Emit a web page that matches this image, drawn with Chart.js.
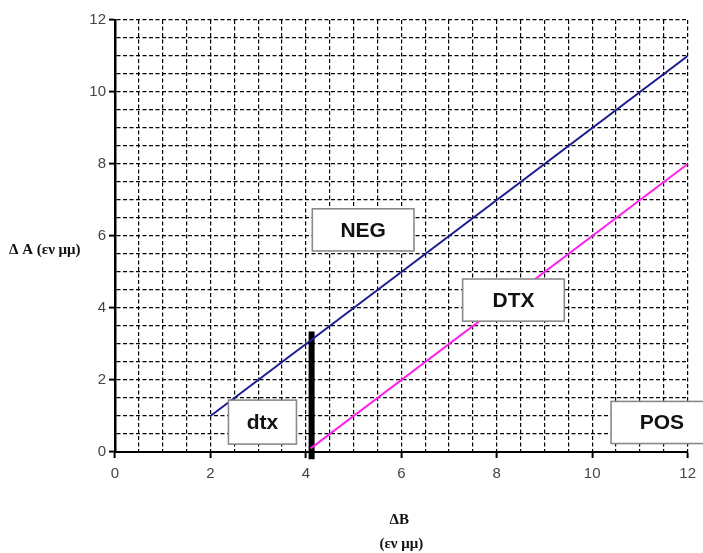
<!DOCTYPE html>
<html>
<head>
<meta charset="utf-8">
<script src="https://cdn.jsdelivr.net/npm/chart.js@4"></script>
<style>
  html, body { margin: 0; padding: 0; background: #fff; }
  #wrap { width: 703px; height: 553px; }
</style>
</head>
<body>
<div id="wrap"><canvas id="c" width="703" height="553"></canvas></div>
<script>
// ---- data ----
const xTickLabels = ['0', '2', '4', '6', '8', '10', '12'];
const yTickLabels = ['0', '2', '4', '6', '8', '10', '12'];
const negLineX = [2, 12];
const negLineY = [1, 11];
const dtxLineX = [4.1, 12];
const dtxLineY = [0.1, 8];
const barX = [4.12, 4.12];
const barY = [-0.2, 3.35];
const boxTexts = ['dtx', 'NEG', 'DTX', 'POS'];
const boxCenterX = [3.09, 5.2, 8.35, 11.46];
const boxCenterY = [0.83, 6.17, 4.22, 0.82];
const yTitle = 'Δ A (εν μμ)';
const xTitle = ['ΔB', '(εν μμ)'];

const toPts = (xs, ys) => xs.map((x, i) => ({ x: x, y: ys[i] }));

const boxPlugin = {
  id: 'boxes',
  afterDatasetsDraw(chart) {
    const ctx = chart.ctx;
    const xs = chart.scales.x, ys = chart.scales.y;
    ctx.save();
    const wU = 2.13, hU = 1.17;
    boxTexts.forEach((t, i) => {
      const cx = xs.getPixelForValue(boxCenterX[i]);
      const cy = ys.getPixelForValue(boxCenterY[i]);
      const w = (t === 'dtx') ? 68 : Math.abs(xs.getPixelForValue(wU) - xs.getPixelForValue(0));
      const h = (t === 'dtx') ? 44 : Math.abs(ys.getPixelForValue(hU) - ys.getPixelForValue(0));
      ctx.fillStyle = '#ffffff';
      ctx.fillRect(cx - w / 2, cy - h / 2, w, h);
      ctx.strokeStyle = '#8a8a8a';
      ctx.lineWidth = 1.6;
      ctx.strokeRect(cx - w / 2, cy - h / 2, w, h);
      ctx.fillStyle = '#111';
      ctx.font = 'bold 21px "Liberation Sans", Arial, sans-serif';
      ctx.textAlign = 'center';
      ctx.textBaseline = 'middle';
      ctx.fillText(t, cx, cy + 1);
    });
    ctx.restore();
  },
  afterDraw(chart) {
    const ctx = chart.ctx;
    const ca = chart.chartArea;
    ctx.save();
    ctx.fillStyle = '#111';
    ctx.font = 'bold 15px "Liberation Serif", "Times New Roman", serif';
    ctx.textBaseline = 'middle';
    ctx.textAlign = 'left';
    ctx.fillText(yTitle, 9, (ca.top + ca.bottom) / 2 + 14);
    ctx.textAlign = 'center';
    const cx = (ca.left + ca.right) / 2;
    ctx.fillText(xTitle[0], cx - 2, ca.bottom + 68);
    ctx.fillText(xTitle[1], cx, ca.bottom + 92);
    ctx.restore();
  }
};

const isMajor = (v) => Math.abs(v % 2) < 1e-9;
const tickFont = { family: '"Liberation Sans", Arial, sans-serif', size: 15 };

new Chart(document.getElementById('c'), {
  type: 'scatter',
  data: {
    datasets: [
      { data: toPts(negLineX, negLineY), showLine: true, borderColor: '#1c1c8e', borderWidth: 2, pointRadius: 0, fill: false },
      { data: toPts(dtxLineX, dtxLineY), showLine: true, borderColor: '#ff22ee', borderWidth: 2, pointRadius: 0, fill: false },
      { data: toPts(barX, barY), showLine: true, borderColor: '#000000', borderWidth: 6, pointRadius: 0, fill: false, clip: false, borderCapStyle: 'butt' }
    ]
  },
  options: {
    responsive: false,
    animation: false,
    devicePixelRatio: 1,
    layout: { padding: { left: 0, right: 12, top: 20, bottom: 0 } },
    plugins: { legend: { display: false }, tooltip: { enabled: false } },
    scales: {
      x: {
        type: 'linear', min: 0, max: 12,
        afterFit: (s) => { s.height = 101; },
        ticks: {
          stepSize: 0.5, autoSkip: false, maxRotation: 0, padding: 7,
          color: '#444', font: tickFont,
          callback: (v) => isMajor(v) ? xTickLabels[Math.round(v / 2)] : ''
        },
        grid: {
          color: '#000', lineWidth: 1.2, drawTicks: true, tickLength: 6,
          tickColor: (c) => (c.tick && isMajor(c.tick.value)) ? '#000' : 'rgba(0,0,0,0)',
          tickWidth: 2
        },
        border: { display: true, color: '#000', width: 2, dash: [4, 2.5] }
      },
      y: {
        type: 'linear', min: 0, max: 12,
        afterFit: (s) => { s.width = 115; },
        ticks: {
          stepSize: 0.5, autoSkip: false, padding: 3,
          color: '#444', font: tickFont,
          callback: (v) => isMajor(v) ? yTickLabels[Math.round(v / 2)] : ''
        },
        grid: {
          color: '#000', lineWidth: 1.2, drawTicks: true, tickLength: 6,
          tickColor: (c) => (c.tick && isMajor(c.tick.value)) ? '#000' : 'rgba(0,0,0,0)',
          tickWidth: 2
        },
        border: { display: true, color: '#000', width: 2.5, dash: [4, 2.5] }
      }
    }
  },
  plugins: [boxPlugin]
});
</script>
</body>
</html>
